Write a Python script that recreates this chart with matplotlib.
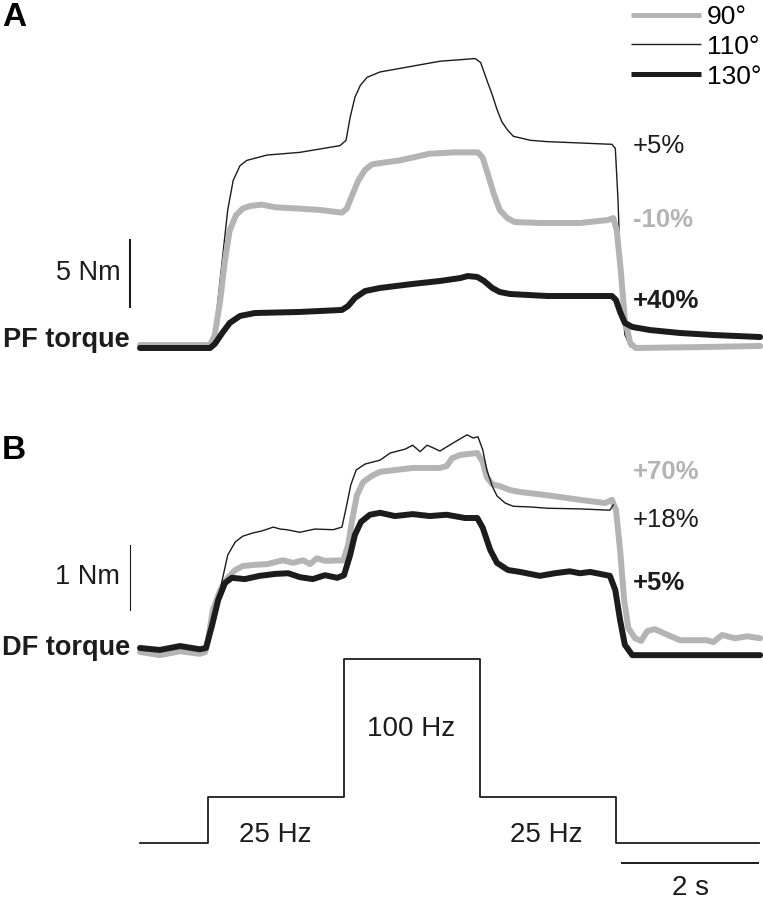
"""PF / DF torque traces at three ankle angles during a 25-100-25 Hz stimulation train."""

import matplotlib
matplotlib.use("Agg")
import matplotlib.pyplot as plt

plt.rcParams["font.family"] = ["Liberation Sans", "DejaVu Sans"]

GREY = "#b4b4b4"
BLACK = "#1c1c1c"

# ---- data (time in s, torque in Nm, stim in Hz) ----
angles = ["90°", "110°", "130°"]

# panel A, plantarflexion torque
pf_t_90 = [0, 1.03, 1.10, 1.18, 1.25, 1.32, 1.41, 1.51, 1.62, 1.79, 1.99, 2.35, 2.65, 2.97,
           3.04, 3.12, 3.21, 3.31, 3.41, 3.53, 3.82, 4.26, 4.63, 4.97, 5.04, 5.12, 5.21,
           5.29, 5.40, 5.51, 5.88, 6.47, 6.88, 6.96, 7.01, 7.07, 7.13, 7.21, 7.29, 8.24, 9.12]
pf_v_90 = [0.22, 0.22, 0.97, 3.58, 6.57, 8.8, 9.9, 10.4, 10.6, 10.7, 10.5, 10.4, 10.3, 10.1,
           10.4, 11.4, 12.5, 13.3, 13.7, 13.8, 14.0, 14.5, 14.6, 14.6, 14.2, 12.9, 11.4,
           10.3, 9.7, 9.4, 9.33, 9.33, 9.55, 9.7, 8.8, 5.8, 2.1, 0.37, 0.0, 0.07, 0.15]

pf_t_110 = [0, 1.03, 1.10, 1.21, 1.29, 1.37, 1.47, 1.57, 1.87, 2.35, 2.94, 3.03, 3.09, 3.16,
            3.24, 3.34, 3.53, 3.97, 4.41, 4.93, 5.01, 5.10, 5.18, 5.25, 5.32, 5.40, 5.49,
            5.74, 5.99, 6.47, 6.94, 6.99, 7.03, 7.07, 7.13, 7.21, 8.24, 9.12]
pf_v_110 = [0.15, 0.15, 1.34, 6.57, 10.3, 12.5, 13.6, 14.0, 14.4, 14.6, 15.1, 15.5, 17.2, 18.7,
            19.6, 20.2, 20.6, 21.0, 21.4, 21.6, 21.3, 20.0, 18.9, 17.8, 16.9, 16.3, 15.8,
            15.5, 15.4, 15.3, 15.2, 14.9, 11.0, 5.1, 1.0, 0.1, 0.1, 0.12]

pf_t_130 = [0, 1.03, 1.10, 1.21, 1.32, 1.47, 1.69, 2.35, 2.97, 3.06, 3.16, 3.31, 3.53, 4.01,
            4.41, 4.71, 4.82, 4.96, 5.06, 5.18, 5.29, 5.44, 5.99, 6.94, 7.00, 7.06, 7.13,
            7.24, 7.50, 7.94, 8.43, 9.12]
pf_v_130 = [0, 0, 0.3, 1.12, 1.87, 2.39, 2.61, 2.69, 2.84, 3.13, 3.73, 4.25, 4.48, 4.78,
            5.0, 5.22, 5.37, 5.30, 5.0, 4.48, 4.18, 4.03, 3.88, 3.88, 3.58, 2.69, 1.87,
            1.57, 1.34, 1.12, 0.97, 0.82]

# panel B, dorsiflexion torque
df_t_90 = [0, 0.29, 0.59, 0.88, 0.96, 1.0, 1.07, 1.18, 1.29, 1.40, 1.51, 1.69, 1.87, 2.10,
           2.25, 2.40, 2.50, 2.60, 2.72, 2.99, 3.06, 3.12, 3.19, 3.28, 3.41, 3.53, 4.01,
           4.41, 4.51, 4.59, 4.71, 4.96, 5.04, 5.10, 5.18, 5.29, 5.44, 5.59, 5.99, 6.47,
           6.84, 6.94, 7.00, 7.06, 7.12, 7.18, 7.28, 7.37, 7.46, 7.57, 7.72, 7.94, 8.34,
           8.43, 8.56, 8.75, 8.93, 9.12]
df_v_90 = [-0.06, -0.11, -0.05, -0.09, -0.06, 0.12, 0.58, 0.89, 1.08, 1.2, 1.26, 1.28, 1.29, 1.35,
           1.31, 1.35, 1.29, 1.38, 1.34, 1.35, 1.58, 1.97, 2.35, 2.55, 2.65, 2.71, 2.77,
           2.77, 2.8, 2.92, 2.97, 3.0, 2.86, 2.63, 2.52, 2.49, 2.43, 2.4, 2.35, 2.28,
           2.23, 2.28, 2.12, 1.51, 0.74, 0.31, 0.15, 0.11, 0.26, 0.29, 0.22, 0.12, 0.12,
           0.09, 0.2, 0.15, 0.18, 0.15]

df_t_110 = [0, 0.96, 1.03, 1.10, 1.21, 1.29, 1.40, 1.51, 1.66, 1.79, 1.96, 2.06, 2.16, 2.35,
            2.57, 2.84, 2.97, 3.04, 3.10, 3.18, 3.31, 3.53, 3.68, 3.90, 4.01, 4.12, 4.22,
            4.31, 4.41, 4.63, 4.81, 4.90, 4.97, 5.04, 5.10, 5.18, 5.25, 5.37, 5.49, 5.74,
            5.99, 6.47, 6.91, 6.96]
df_v_110 = [0, 0, 0.12, 0.51, 1.05, 1.43, 1.63, 1.72, 1.77, 1.80, 1.86, 1.83, 1.82, 1.78,
            1.83, 1.82, 1.86, 2.2, 2.51, 2.74, 2.83, 2.89, 3.0, 3.06, 3.12, 3.02, 3.12,
            3.08, 3.03, 3.17, 3.28, 3.23, 3.25, 3.05, 2.74, 2.49, 2.34, 2.23, 2.18, 2.17,
            2.15, 2.14, 2.12, 2.2]

df_t_130 = [0, 0.29, 0.59, 0.88, 0.97, 1.06, 1.15, 1.25, 1.35, 1.54, 1.76, 1.99, 2.18, 2.35,
            2.54, 2.72, 2.90, 3.0, 3.09, 3.16, 3.25, 3.38, 3.53, 3.75, 4.01, 4.26, 4.51,
            4.78, 4.96, 5.04, 5.15, 5.25, 5.41, 5.59, 5.88, 6.10, 6.32, 6.47, 6.62, 6.91,
            6.99, 7.06, 7.13, 7.24, 8.24, 9.12]
df_v_130 = [0, -0.03, 0.03, -0.02, 0, 0.35, 0.74, 1.0, 1.08, 1.06, 1.11, 1.14, 1.15, 1.09,
            1.06, 1.12, 1.08, 1.12, 1.43, 1.74, 1.94, 2.05, 2.08, 2.03, 2.06, 2.03, 2.05,
            2.0, 2.0, 1.85, 1.51, 1.31, 1.2, 1.17, 1.11, 1.15, 1.18, 1.15, 1.17, 1.11,
            0.89, 0.43, 0.05, -0.11, -0.11, -0.11]

pf_change = ["-10%", "+5%", "+40%"]
df_change = ["+70%", "+18%", "+5%"]

stim_t = [0, 1, 3, 5, 7, 9.1]
stim_hz = [0, 25, 100, 25, 0, 0]
stim_labels = ["25 Hz", "100 Hz", "25 Hz"]

# ---- layout: pixel mapping of the original figure ----
W, H = 763, 900
X0, PX_PER_S = 140, 68.0


def overlay(fig, y0_px, px_per_unit):
    ax = fig.add_axes([0, 0, 1, 1])
    ax.set_xlim(-X0 / PX_PER_S, (W - X0) / PX_PER_S)
    ax.set_ylim((y0_px - H) / px_per_unit, y0_px / px_per_unit)
    ax.axis("off")
    ax.patch.set_alpha(0)
    return ax


fig = plt.figure(figsize=(W / 100, H / 100), dpi=100)
ax_a = overlay(fig, 348, 13.4)
ax_b = overlay(fig, 648, 65.0)
ax_s = overlay(fig, 843, 1.84)

thick = dict(lw=4.3, solid_capstyle="round", solid_joinstyle="round")
FS = 18.5

# panel A
g_a, = ax_a.plot(pf_t_90, pf_v_90, color=GREY, zorder=2, **thick)
k_a, = ax_a.plot(pf_t_130, pf_v_130, color=BLACK, zorder=3, **thick)
n_a, = ax_a.plot(pf_t_110, pf_v_110, color=BLACK, lw=1.0, zorder=1)

ax_a.plot([-0.147, -0.147], [3.06, 8.06], color=BLACK, lw=1.5)
ax_a.text(-0.29, 5.6, "5 Nm", ha="right", va="center", fontsize=19.5, color=BLACK)
ax_a.text(-0.15, 0.6, "PF torque", ha="right", va="center", fontsize=19.5,
          fontweight="bold", color=BLACK)

ax_a.text(7.25, 9.55, pf_change[0], ha="left", va="center", fontsize=FS,
          fontweight="bold", color=GREY)
ax_a.text(7.25, 15.1, pf_change[1], ha="left", va="center", fontsize=FS, color=BLACK)
ax_a.text(7.25, 3.5, pf_change[2], ha="left", va="center", fontsize=FS,
          fontweight="bold", color=BLACK)

leg = ax_a.legend([g_a, n_a, k_a], angles, loc="upper right",
                  bbox_to_anchor=(1.0, 0.996), bbox_transform=fig.transFigure,
                  frameon=False, fontsize=19, handlelength=2.65, handletextpad=0.25,
                  labelspacing=0.22, borderpad=0, borderaxespad=0.05)
for line, w in zip(leg.get_lines(), [3.6, 1.0, 3.6]):
    line.set_linewidth(w)
    line.set_solid_capstyle("butt")

# panel B
ax_b.plot(df_t_90, df_v_90, color=GREY, zorder=2, **thick)
ax_b.plot(df_t_130, df_v_130, color=BLACK, zorder=3, **thick)
ax_b.plot(df_t_110, df_v_110, color=BLACK, lw=1.0, zorder=4)

ax_b.plot([-0.147, -0.147], [0.585, 1.585], color=BLACK, lw=0.8)
ax_b.text(-0.29, 1.09, "1 Nm", ha="right", va="center", fontsize=19.5, color=BLACK)
ax_b.text(-0.15, 0.0, "DF torque", ha="right", va="center", fontsize=19.5,
          fontweight="bold", color=BLACK)

ax_b.text(7.25, 2.71, df_change[0], ha="left", va="center", fontsize=FS,
          fontweight="bold", color=GREY)
ax_b.text(7.25, 1.97, df_change[1], ha="left", va="center", fontsize=FS, color=BLACK)
ax_b.text(7.25, 1.0, df_change[2], ha="left", va="center", fontsize=FS,
          fontweight="bold", color=BLACK)

# stimulation pattern
ax_s.step(stim_t, stim_hz, where="post", color=BLACK, lw=1.3)
ax_s.text(1.99, 4.3, stim_labels[0], ha="center", va="center", fontsize=20, color=BLACK)
ax_s.text(3.99, 62.0, stim_labels[1], ha="center", va="center", fontsize=20, color=BLACK)
ax_s.text(5.97, 4.3, stim_labels[2], ha="center", va="center", fontsize=20, color=BLACK)

ax_s.plot([7.09, 9.09], [-10.9, -10.9], color=BLACK, lw=1.4)
ax_s.text(8.09, -24.5, "2 s", ha="center", va="center", fontsize=20, color=BLACK)

fig.text(2 / W, 1 - 18 / H, "A", ha="left", va="center", fontsize=24, fontweight="bold")
fig.text(2 / W, 1 - 451 / H, "B", ha="left", va="center", fontsize=24, fontweight="bold")

fig.savefig("out.png", dpi=100)
